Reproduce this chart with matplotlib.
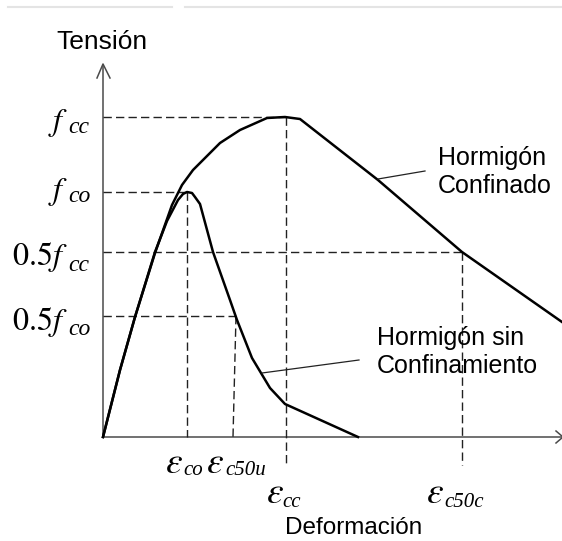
import matplotlib
matplotlib.use("Agg")
import matplotlib.pyplot as plt

plt.rcParams['font.family'] = ['Liberation Sans', 'DejaVu Sans']
plt.rcParams['mathtext.fontset'] = 'stix'

# stress levels (arbitrary units, origin at 0)
f_cc = 320
f_co = 245
half_fcc = 185
half_fco = 121

# strain marks
eps_co = 84
eps_c50u = 133
eps_cc = 183
eps_c50c = 359

# confined concrete curve
conf_x = [0, 17, 32, 52, 69, 79, 90, 97, 117, 137, 164, 182, 197, 275, 359, 459]
conf_y = [0, 67, 120, 184, 232, 252, 267, 274, 294, 307, 319, 320, 318, 257, 185, 115]

# unconfined concrete curve
unconf_x = [0, 17, 32, 52, 64, 75, 80, 84, 89, 92, 97, 110, 127, 134, 149, 167, 182, 255]
unconf_y = [0, 67, 120, 185, 216, 237, 243, 245, 244, 240, 233, 185, 137, 117, 79, 49, 33, 0]

fig = plt.figure(figsize=(5.62, 5.41), dpi=100)
ax = fig.add_axes([0, 0, 1, 1])
ax.set_xlim(-103, 459)
ax.set_ylim(-104, 437)
ax.axis('off')

axis_col = '#4a4a4a'
# axes with open arrow heads
ax.plot([0, 0], [0, 372], color=axis_col, lw=1.1)
ax.plot([-6, 0, 7], [359, 373, 359], color=axis_col, lw=1.1)
ax.plot([0, 459], [0, 0], color=axis_col, lw=1.1)
ax.plot([453, 460, 453], [6, 0, -6], color=axis_col, lw=1.1)

dash = dict(color='#222222', lw=1.0, ls=(0, (6, 3)))
# horizontal guides
ax.plot([0, eps_cc], [f_cc, f_cc], **dash)
ax.plot([0, eps_co], [f_co, f_co], **dash)
ax.plot([0, eps_c50c], [half_fcc, half_fcc], **dash)
ax.plot([0, eps_c50u], [half_fco, half_fco], **dash)
# vertical guides
ax.plot([eps_co, eps_co], [f_co, 0], **dash)
ax.plot([eps_c50u, eps_c50u - 3], [half_fco, 0], **dash)
ax.plot([eps_cc, eps_cc], [f_cc, -26], **dash)
ax.plot([eps_c50c, eps_c50c], [half_fcc, -28], **dash)

# curves
ax.plot(conf_x, conf_y, color='black', lw=1.8, solid_joinstyle='round')
ax.plot(unconf_x, unconf_y, color='black', lw=1.8, solid_joinstyle='round')

# leaders
ax.plot([275, 322], [258, 266], color='#222222', lw=0.9)
ax.plot([159, 256], [64, 77], color='#222222', lw=0.9)

ax.text(-1, 395, 'Tensión', ha='center', va='center', fontsize=19)
ax.text(251, -91, 'Deformación', ha='center', va='center', fontsize=17.5)
ax.text(335, 265, 'Hormigón\nConfinado', ha='left', va='center',
        linespacing=1.2, fontsize=18)
ax.text(274, 85, 'Hormigón sin\nConfinamiento', ha='left', va='center',
        linespacing=1.2, fontsize=18)

sub = dict(family='Liberation Serif', style='italic', va='baseline', color='black')

# stress labels: main part, then subscript
stress_labels = [(r'$f$', 'cc', 307, 304),
                 (r'$f$', 'co', 238, 235),
                 (r'$0.5f$', 'cc', 172, 166),
                 (r'$0.5f$', 'co', 107, 102)]
for main, s, yb, ys in stress_labels:
    ax.text(-35, yb, main, ha='right', va='baseline', fontsize=23)
    ax.text(-35, ys, s, ha='left', fontsize=17, **sub)

# strain labels
strain_labels = [('co', 62, 80, -36, -38),
                 ('c50u', 103, 122, -36, -38),
                 ('cc', 163, 179, -66, -70),
                 ('c50c', 323, 341, -66, -70)]
for s, xm, xs, yb, ys in strain_labels:
    ax.text(xm, yb, r'$\varepsilon$', ha='left', va='baseline', fontsize=27)
    ax.text(xs, ys, s, ha='left', fontsize=15, **sub)

# faint rules along the top edge
ax.plot([-95, 69], [430, 430], color='#e4e4e4', lw=1.5)
ax.plot([82, 459], [430, 430], color='#e4e4e4', lw=1.5)

fig.savefig('out.png', dpi=100)
